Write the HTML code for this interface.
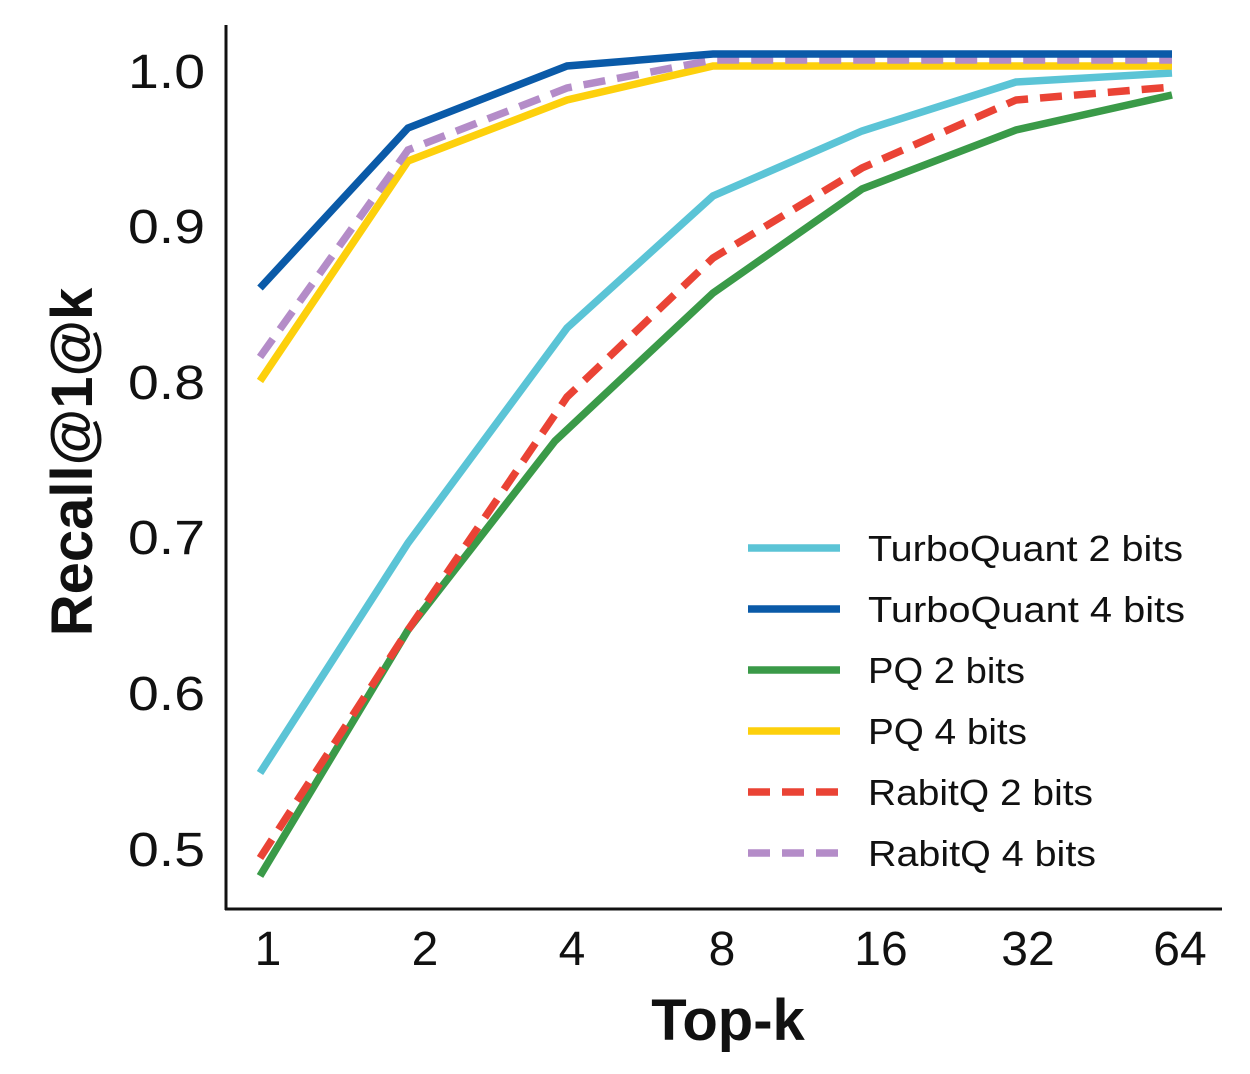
<!DOCTYPE html>
<html><head><style>
html,body{margin:0;padding:0;background:#fff;}
svg{display:block;}
text{font-family:"Liberation Sans",sans-serif;fill:#111;}
</style></head><body>
<svg width="1250" height="1074" viewBox="0 0 1250 1074">
<g fill="none" stroke-width="7.5" stroke-linejoin="miter">
<polyline stroke="#5bc4d6" points="260,773 408,543 567,328 713,196 862,131 1016,82 1172,73"/>
<polyline stroke="#3a9a48" points="260,876 408,630 555,441 713,293 862,189 1016,130 1172,95"/>
<polyline stroke="#ea4335" stroke-dasharray="22,12" points="260,858 408,630 567,397 713,258 862,168 1016,100 1172,87"/>
<polyline stroke="#fdd00c" points="260,381 408,161 567,100 713,66 862,66 1016,66 1172,66"/>
<polyline stroke="#b48cc8" stroke-dasharray="22,12" points="260,357 408,150 567,88 713,60 862,60 1016,60 1172,60"/>
<polyline stroke="#0a5aa8" points="260,288 408,128 567,66 713,54 862,54 1016,54 1172,54"/>
</g>
<g stroke="#111" stroke-width="3">
<line x1="226" y1="25" x2="226" y2="910"/>
<line x1="225" y1="909" x2="1222" y2="909"/>
</g>
<g font-size="48">
<text x="128" y="88" textLength="77" lengthAdjust="spacingAndGlyphs">1.0</text>
<text x="128" y="243" textLength="77" lengthAdjust="spacingAndGlyphs">0.9</text>
<text x="128" y="399" textLength="77" lengthAdjust="spacingAndGlyphs">0.8</text>
<text x="128" y="554" textLength="77" lengthAdjust="spacingAndGlyphs">0.7</text>
<text x="128" y="710" textLength="77" lengthAdjust="spacingAndGlyphs">0.6</text>
<text x="128" y="866" textLength="77" lengthAdjust="spacingAndGlyphs">0.5</text>
</g>
<g font-size="48" text-anchor="middle">
<text x="268" y="965">1</text>
<text x="425" y="965">2</text>
<text x="572" y="965">4</text>
<text x="722" y="965">8</text>
<text x="881" y="965">16</text>
<text x="1028" y="965">32</text>
<text x="1180" y="965">64</text>
</g>
<text x="728" y="1040" font-size="58" font-weight="bold" text-anchor="middle">Top-k</text>
<text transform="translate(92,462) rotate(-90)" font-size="58" font-weight="bold" text-anchor="middle">Recall@1@k</text>
<g stroke-width="7.5">
<line x1="748" y1="548" x2="840" y2="548" stroke="#5bc4d6"/>
<line x1="748" y1="609" x2="840" y2="609" stroke="#0a5aa8"/>
<line x1="748" y1="670" x2="840" y2="670" stroke="#3a9a48"/>
<line x1="748" y1="731" x2="840" y2="731" stroke="#fdd00c"/>
<line x1="748" y1="792" x2="840" y2="792" stroke="#ea4335" stroke-dasharray="22,12"/>
<line x1="748" y1="853" x2="840" y2="853" stroke="#b48cc8" stroke-dasharray="22,12"/>
</g>
<g font-size="36">
<text x="868" y="561" textLength="315" lengthAdjust="spacingAndGlyphs">TurboQuant 2 bits</text>
<text x="868" y="622" textLength="317" lengthAdjust="spacingAndGlyphs">TurboQuant 4 bits</text>
<text x="868" y="683" textLength="157" lengthAdjust="spacingAndGlyphs">PQ 2 bits</text>
<text x="868" y="744" textLength="159" lengthAdjust="spacingAndGlyphs">PQ 4 bits</text>
<text x="868" y="805" textLength="225" lengthAdjust="spacingAndGlyphs">RabitQ 2 bits</text>
<text x="868" y="866" textLength="228" lengthAdjust="spacingAndGlyphs">RabitQ 4 bits</text>
</g>
</svg>
</body></html>
